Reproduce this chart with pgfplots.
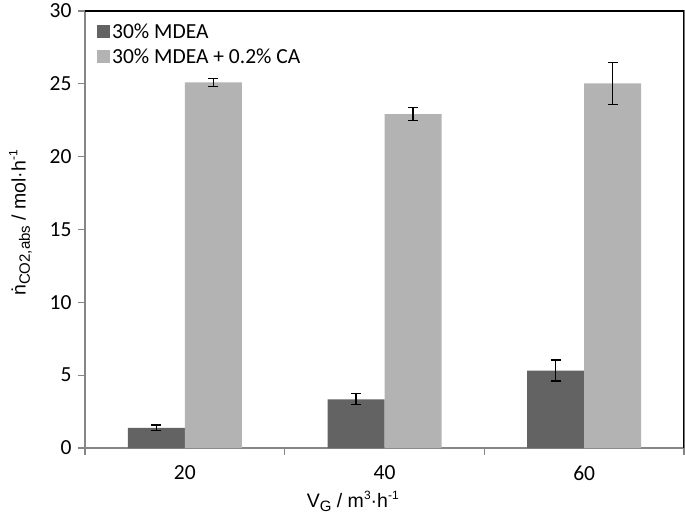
\documentclass[border=0pt]{standalone}
\usepackage{pgfplots}
\pgfplotsset{compat=1.18}
\usepackage{fontspec}
\setmainfont{Carlito}
\newfontfamily\arial{Liberation Sans}
\definecolor{darkbar}{HTML}{636363}
\definecolor{lightbar}{HTML}{B3B3B3}
\definecolor{axgrey}{HTML}{868686}
\newcommand{\sub}[1]{\raisebox{-0.22em}{\fontsize{15}{15}\selectfont #1}}
\newcommand{\sups}[1]{\raisebox{0.42em}{\fontsize{12}{13}\selectfont #1}}
\begin{document}
\begin{tikzpicture}
\useasboundingbox (-85pt,-75pt) rectangle (600pt,448pt);
\begin{axis}[
  scale only axis,
  width=599pt, height=437pt,
  at={(0,0)}, anchor=south west,
  ymin=0, ymax=30, ytick={0,5,...,30},
  xmin=-0.5, xmax=2.5,
  xtick={0,1,2}, xticklabels={20,40,60},
  minor xtick={-0.5,0.5,1.5,2.5},
  major x tick style={draw=none},
  minor tick length=7pt,
  major tick length=7pt,
  tick align=outside,
  xtick pos=bottom, ytick pos=left,
  tick style={axgrey, line width=1.2pt},
  axis line style={axgrey, line width=1.2pt},
  /pgf/number format/assume math mode=true,
  ticklabel style={font=\fontsize{21.5}{25}\selectfont},
  xticklabel style={yshift=-7pt},
  yticklabel style={xshift=-3pt},
  ybar=0pt, bar width=57pt,
  xlabel={V\sub{G} / m\sups{3}·h\sups{-1}},
  ylabel={ṅ\sub{CO2,abs} / mol·h\sups{-1}},
  label style={font=\arial\fontsize{19.5}{23}\selectfont},
  xlabel style={at={(ticklabel cs:0.447)}, yshift=-4pt},
  ylabel style={at={(ticklabel cs:0.515)}, yshift=11pt},
  legend style={draw=none, fill=none, at={(rel axis cs:0.02,0.975)}, anchor=north west,
    font=\fontsize{21.5}{25}\selectfont, row sep=5pt, inner sep=0pt},
  legend cell align=left,
  legend image code/.code={\fill[#1, draw=none] (0pt,-6pt) rectangle (13pt,7pt);},
  error bars/error bar style={black, line width=1.2pt},
  error bars/error mark options={rotate=90, mark size=5pt, line width=1.2pt, black},
]
\addplot[fill=darkbar, draw=none, error bars/.cd, y dir=both, y explicit]
  coordinates {(0,1.38) +- (0,0.2) (1,3.34) +- (0,0.38) (2,5.32) +- (0,0.72)};
\addplot[fill=lightbar, draw=none, error bars/.cd, y dir=both, y explicit]
  coordinates {(0,25.1) +- (0,0.27) (1,22.92) +- (0,0.45) (2,25.03) +- (0,1.44)};
\legend{30\% MDEA, 30\% MDEA + 0.2\% CA}
\draw[black, line width=1.2pt] (rel axis cs:0,1) -- (rel axis cs:1,1) -- (rel axis cs:1,0);
\end{axis}
\end{tikzpicture}
\end{document}
